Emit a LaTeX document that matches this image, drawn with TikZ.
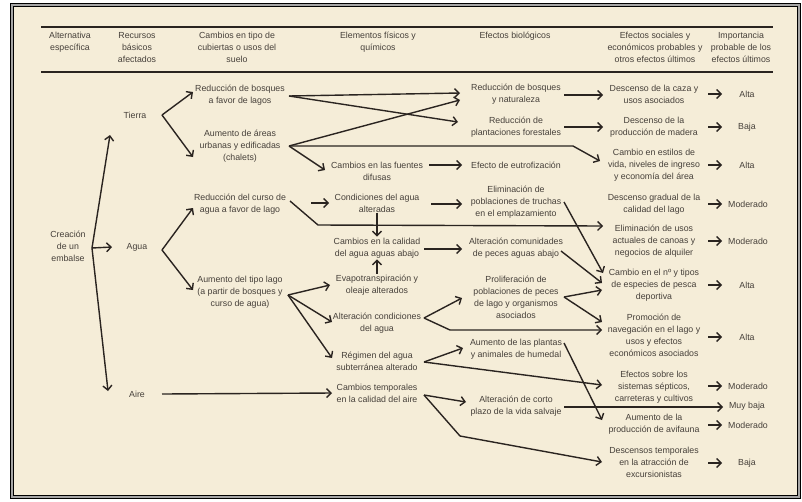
\documentclass[tikz,border=0pt]{standalone}
\usepackage{fontspec}
\setmainfont{Liberation Sans}
\usetikzlibrary{arrows.meta}
\definecolor{parch}{RGB}{245,237,216}
\definecolor{ink}{RGB}{42,36,32}
\definecolor{txt}{RGB}{70,64,58}
\begin{document}
\begin{tikzpicture}[x=1pt,y=-1pt,
  lbl/.style={align=center, text=txt, font=\fontsize{8.8}{12}\selectfont, inner sep=1pt},
  hdr/.style={lbl, anchor=north},
  arr/.style={draw=ink, line width=1.4pt, line join=round, -{Straight Barb[length=4.5pt,width=9pt,line width=1.4pt]}},
  rulel/.style={draw=ink, line width=1.6pt}]
\useasboundingbox (0,0) rectangle (802,501);
\fill[white] (0,0) rectangle (802,501);
\fill[parch] (12,5) rectangle (799,497);
\draw[line width=1.6pt, draw=black, double=gray!70, double distance=1.2pt] (12,5) rectangle (799,497);
% header
\draw[rulel] (41,27) -- (773,27);
\draw[rulel] (41,72) -- (773,72);
\node[hdr] (h1) at (70,31) {Alternativa\\específica};
\node[hdr] (h2) at (137,31) {Recursos\\básicos\\afectados};
\node[hdr] (h3) at (237,31) {Cambios en tipo de\\cubiertas o usos del\\suelo};
\node[hdr] (h4) at (378,31) {Elementos físicos y\\químicos};
\node[hdr] (h5) at (515,31) {Efectos biológicos};
\node[hdr] (h6) at (655,31) {Efectos sociales y\\económicos probables y\\otros efectos últimos};
\node[hdr] (h7) at (741,31) {Importancia\\probable de los\\efectos últimos};
% column 1-2
\node[lbl] (cre) at (68,246) {Creación\\de un\\embalse};
\node[lbl] (tierra) at (135,115) {Tierra};
\node[lbl] (agua) at (137,247) {Agua};
\node[lbl] (aire) at (137,394) {Aire};
% column 3
\node[lbl] (c3a) at (240,95) {Reducción de bosques\\a favor de lagos};
\node[lbl] (c3b) at (240,146) {Aumento de áreas\\urbanas y edificadas\\(chalets)};
\node[lbl] (c3c) at (240,204) {Reducción del curso de\\agua a favor de lago};
\node[lbl] (c3d) at (240,292) {Aumento del tipo lago\\(a partir de bosques y\\curso de agua)};
% column 4
\node[lbl] (c4a) at (377,171) {Cambios en las fuentes\\difusas};
\node[lbl] (c4b) at (377,203) {Condiciones del agua\\alteradas};
\node[lbl] (c4c) at (377,248) {Cambios en la calidad\\del agua aguas abajo};
\node[lbl] (c4d) at (377,285) {Evapotranspiración y\\oleaje alterados};
\node[lbl] (c4e) at (377,323) {Alteración condiciones\\del agua};
\node[lbl] (c4f) at (377,361) {Régimen del agua\\subterránea alterado};
\node[lbl] (c4g) at (377,393) {Cambios temporales\\en la calidad del aire};
% column 5
\node[lbl] (c5a) at (516,94) {Reducción de bosques\\y naturaleza};
\node[lbl] (c5b) at (516,127) {Reducción de\\plantaciones forestales};
\node[lbl] (c5c) at (516,165) {Efecto de eutrofización};
\node[lbl] (c5d) at (516,202) {Eliminación de\\poblaciones de truchas\\en el emplazamiento};
\node[lbl] (c5e) at (516,248) {Alteración comunidades\\de peces aguas abajo};
\node[lbl] (c5f) at (516,297) {Proliferación de\\poblaciones de peces\\de lago y organismos\\asociados};
\node[lbl] (c5g) at (516,349) {Aumento de las plantas\\y animales de humedal};
\node[lbl] (c5h) at (516,406) {Alteración de corto\\plazo de la vida salvaje};
% column 6
\node[lbl] (c6a) at (654,94) {Descenso de la caza y\\usos asociados};
\node[lbl] (c6b) at (654,127) {Descenso de la\\producción de madera};
\node[lbl] (c6c) at (654,165) {Cambio en estilos de\\vida, niveles de ingreso\\y economía del área};
\node[lbl] (c6d) at (654,204) {Descenso gradual de la\\calidad del lago};
\node[lbl] (c6e) at (654,241) {Eliminación de usos\\actuales de canoas y\\negocios de alquiler};
\node[lbl] (c6f) at (654,285) {Cambio en el nº y tipos\\de especies de pesca\\deportiva};
\node[lbl] (c6g) at (654,335) {Promoción de\\navegación en el lago y\\usos y efectos\\económicos asociados};
\node[lbl] (c6h) at (654,387) {Efectos sobre los\\sistemas sépticos,\\carreteras y cultivos};
\node[lbl] (c6i) at (654,424) {Aumento de la\\producción de avifauna};
\node[lbl] (c6j) at (654,462) {Descensos temporales\\en la atracción de\\excursionistas};
% column 7
\node[lbl] (c7a) at (747,94) {Alta};
\node[lbl] (c7b) at (747,127) {Baja};
\node[lbl] (c7c) at (747,165) {Alta};
\node[lbl] (c7d) at (748,204) {Moderado};
\node[lbl] (c7e) at (748,241) {Moderado};
\node[lbl] (c7f) at (747,285) {Alta};
\node[lbl] (c7g) at (747,337) {Alta};
\node[lbl] (c7h) at (748,386) {Moderado};
\node[lbl] (c7i) at (747,406) {Muy baja};
\node[lbl] (c7j) at (748,425) {Moderado};
\node[lbl] (c7k) at (747,463) {Baja};
% junctions
\coordinate (j0) at (92,248);
\coordinate (jt) at (162,115);
\coordinate (ja) at (162,250);
\coordinate (jr) at (162,394);
\coordinate (j3a) at (289,96);
\coordinate (j3b) at (289,146);
\coordinate (j3c) at (290,201);
\coordinate (j3d) at (288,295);
\coordinate (j4e) at (424,318);
\coordinate (j4f) at (424,362);
\coordinate (j4g) at (424,395);
\coordinate (j5f) at (564,297);
% connectors
\draw[arr] (j0) -- (110,135);
\draw[arr] (j0) -- (108,391);
\draw[arr] (j0) -- (agua -| 112,0);
\draw[arr] (jt) -- (193,92);
\draw[arr] (jt) -- (193,157);
\draw[arr] (ja) -- (193,208);
\draw[arr] (ja) -- (193,290);
\draw[arr] (jr) -- (c4g -| 332,0);
\draw[arr] (j3a) -- (460,93);
\draw[arr] (j3a) -- (458,122);
\draw[arr] (j3b) -- (460,100);
\draw[arr] (j3b) -- (573,146) -- (600,161);
\draw[arr] (j3b) -- (325,170);
\draw[arr] (c5c -| 429,0) -- (c5c -| 462,0);
\draw[arr] (311,203) -- (329,203);
\draw[arr] (j3c) -- (318,225) -- (603,226);
\draw[arr] (431,204) -- (462,204);
\draw[arr] (c4b.south) -- (c4c.north);
\draw[arr] (c4d.north) -- (c4c.south);
\draw[arr] (424,249) -- (462,249);
\draw[arr] (564,202) -- (603,273);
\draw[arr] (561,251) -- (602,283);
\draw[arr] (j3d) -- (330,285);
\draw[arr] (j3d) -- (332,322);
\draw[arr] (j3d) -- (332,358);
\draw[arr] (j4e) -- (462,298);
\draw[arr] (j4e) -- (450,330) -- (602,330);
\draw[arr] (j5f) -- (602,290);
\draw[arr] (j5f) -- (602,322);
\draw[arr] (j4f) -- (463,348);
\draw[arr] (j4f) -- (602,385);
\draw[arr] (564,343) -- (602,420);
\draw[arr] (j4g) -- (466,402);
\draw[arr] (j4g) -- (460,436) -- (602,462);
\draw[arr] (564,407) -- (723,407);
\draw[arr] (564,95) -- (603,95);
\draw[arr] (564,127) -- (603,127);
\foreach \yy in {94,127,165,204,241,285,337,386,425,463}
  \draw[arr] (708,\yy) -- (722,\yy);
\end{tikzpicture}
\end{document}
